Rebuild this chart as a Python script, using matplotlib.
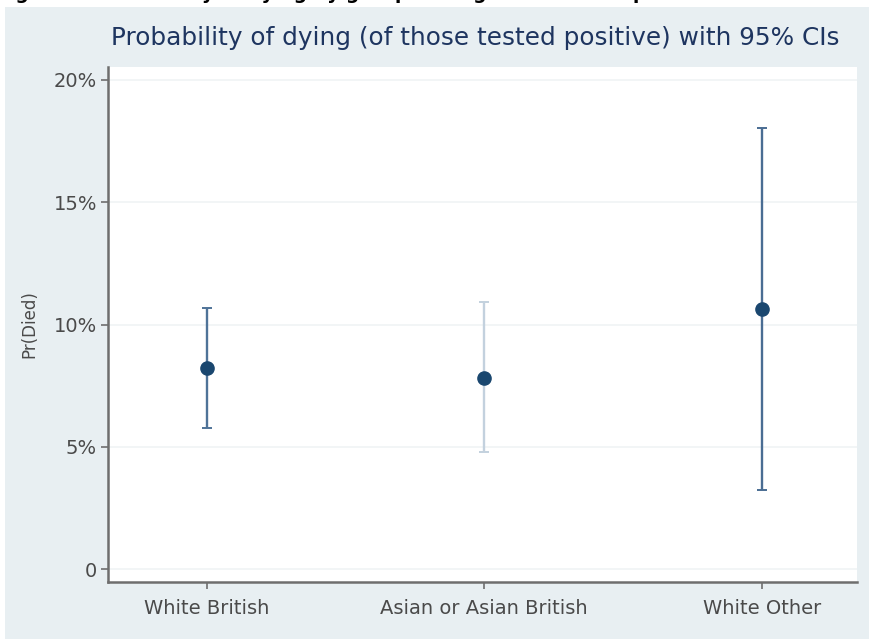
import matplotlib
matplotlib.use("Agg")
import matplotlib.pyplot as plt
from matplotlib.patches import Rectangle
import numpy as np

# predicted probability of death among those tested positive, with 95% CIs (%)
groups = ["White British", "Asian or Asian British", "White Other"]
pr_died = [8.22, 7.81, 10.63]
ci_low = [5.75, 4.78, 3.23]
ci_high = [10.67, 10.92, 18.03]
ci_colors = ["#4f7398", "#c3d1de", "#4a6d93"]

yticks = [0, 5, 10, 15, 20]
ytick_labels = ["0", "5%", "10%", "15%", "20%"]

plt.rcParams["font.family"] = ["DejaVu Sans"]

fig = plt.figure(figsize=(8.69, 6.39), dpi=100)
fig.patch.set_facecolor("white")

# light graph region behind the plot
fig.add_artist(Rectangle((5 / 869, 0), 1, 1 - 7 / 639, transform=fig.transFigure,
                         facecolor="#e8eff2", edgecolor="none", zorder=0))

# figure caption, mostly cut off at the top edge
fig.text(-0.005, 1.0 + 1 / 639, "Figure 3: Probability of dying by group among those tested positive",
         fontsize=13.5, fontweight="bold", color="black", ha="left", va="baseline")

ax = fig.add_axes([108 / 869, 1 - 582 / 639, (857 - 108) / 869, (582 - 67) / 639])
ax.set_facecolor("white")

x = np.arange(len(groups))
for i in range(len(groups)):
    ax.errorbar(x[i], pr_died[i],
                yerr=[[pr_died[i] - ci_low[i]], [ci_high[i] - pr_died[i]]],
                fmt="none", ecolor=ci_colors[i], elinewidth=1.7, capsize=3.5, capthick=1.4, zorder=2)
ax.plot(x, pr_died, "o", color="#1a476f", markersize=9.5, zorder=3)

ax.set_xlim(-0.356, 2.343)
ax.set_ylim(-0.53, 20.53)
ax.set_xticks(x)
ax.set_xticklabels(groups)
ax.set_yticks(yticks)
ax.set_yticklabels(ytick_labels)

ax.grid(axis="y", color="#f0f4f5", linewidth=1.2)
ax.set_axisbelow(True)

for side in ["top", "right"]:
    ax.spines[side].set_visible(False)
for side in ["left", "bottom"]:
    ax.spines[side].set_color("#6e6e6e")
    ax.spines[side].set_linewidth(1.8)

ax.tick_params(axis="both", colors="#6e6e6e", labelcolor="#4a4a4a", labelsize=14,
               length=5, width=1.2, pad=3)
ax.tick_params(axis="x", pad=7)

ax.set_ylabel("Pr(Died)", fontsize=12, color="#4a4a4a", labelpad=11)
ax.set_title("Probability of dying (of those tested positive) with 95% CIs",
             fontsize=17.8, color="#1e3560", pad=16, x=0.49)

fig.savefig("out.png", dpi=100)
